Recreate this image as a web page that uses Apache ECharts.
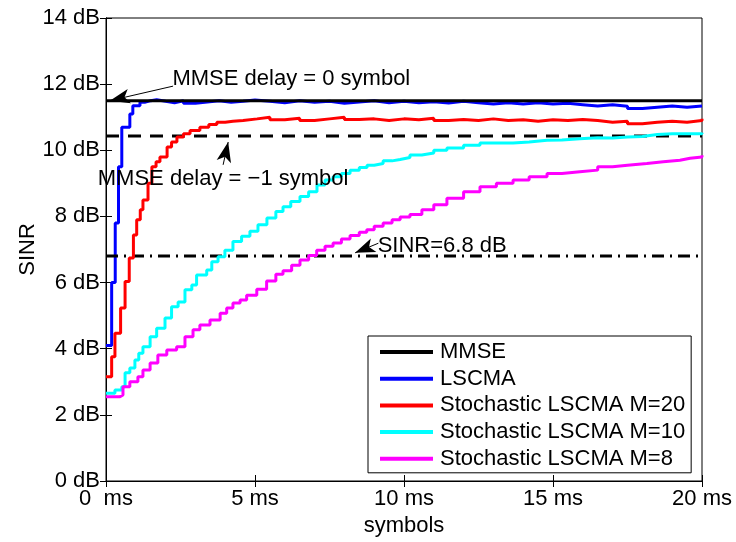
<!DOCTYPE html>
<html>
<head>
<meta charset="utf-8">
<script src="https://cdn.jsdelivr.net/npm/echarts@6/dist/echarts.min.js"></script>
<style>
html,body{margin:0;padding:0;background:#fff;}
#chart{width:736px;height:542px;}
</style>
</head>
<body>
<div id="chart"></div>
<script>
// ---- data ----
const seriesNames = ['MMSE', 'LSCMA', 'Stochastic LSCMA M=20', 'Stochastic LSCMA M=10', 'Stochastic LSCMA M=8'];
const xRange = [0, 20];
const mmseLevel = 11.5;
const mmseDelayLevel = 10.43;
const sinrLevel = 6.8;

const lscmaX = [0, 0.19, 0.31, 0.42, 0.53, 0.8, 0.9, 1.14, 1.3, 1.5, 1.7, 2.0, 2.3, 2.6, 3.0, 3.4, 3.8, 4.2, 4.6, 5.0, 5.5, 6.0, 6.5, 7.0, 7.5, 8.0, 8.5, 9.0, 9.5, 10, 10.5, 11, 11.5, 12, 12.5, 13, 13.5, 14, 14.5, 15, 15.5, 16, 16.5, 17, 17.5, 18, 18.5, 19, 19.5, 20];
const lscmaY = [4.1, 6.0, 7.8, 9.5, 10.7, 11.1, 11.35, 11.45, 11.5, 11.53, 11.48, 11.44, 11.5, 11.42, 11.46, 11.5, 11.45, 11.48, 11.52, 11.48, 11.44, 11.5, 11.45, 11.48, 11.42, 11.46, 11.5, 11.44, 11.48, 11.44, 11.47, 11.43, 11.48, 11.44, 11.4, 11.44, 11.4, 11.44, 11.4, 11.42, 11.38, 11.34, 11.38, 11.33, 11.26, 11.3, 11.34, 11.3, 11.34, 11.35];

const m20X = [0, 0.19, 0.3, 0.49, 0.64, 0.78, 0.92, 1.03, 1.15, 1.24, 1.41, 1.54, 1.68, 1.81, 2.05, 2.2, 2.38, 2.6, 2.82, 3.15, 3.45, 3.72, 4.0, 4.26, 4.6, 5.07, 5.5, 6.0, 6.5, 7.0, 7.5, 8.0, 8.5, 9.0, 9.5, 10, 10.5, 11, 11.5, 12, 12.5, 13, 13.5, 14, 14.5, 15, 15.5, 16, 16.5, 17, 17.5, 18, 18.5, 19, 19.5, 20];
const m20Y = [3.15, 3.76, 4.47, 5.23, 6.03, 6.74, 7.44, 7.9, 8.2, 8.5, 9.0, 9.5, 9.65, 9.8, 10.1, 10.25, 10.4, 10.5, 10.6, 10.7, 10.78, 10.85, 10.88, 10.9, 10.95, 11.0, 10.92, 10.97, 10.9, 10.95, 11.0, 10.93, 10.95, 10.9, 10.95, 10.92, 10.97, 10.9, 10.93, 10.9, 10.95, 10.9, 10.92, 10.88, 10.92, 10.9, 10.93, 10.9, 10.85, 10.88, 10.8, 10.85, 10.88, 10.85, 10.9, 10.95];

const m10X = [0, 0.3, 0.53, 0.64, 0.8, 0.97, 1.1, 1.24, 1.48, 1.7, 1.98, 2.2, 2.42, 2.65, 2.88, 3.04, 3.38, 3.55, 3.76, 3.99, 4.26, 4.55, 4.83, 5.1, 5.4, 5.7, 5.94, 6.2, 6.51, 6.8, 7.08, 7.35, 7.62, 7.9, 8.19, 8.5, 8.76, 9.0, 9.3, 9.6, 9.87, 10.2, 10.6, 11.0, 11.44, 12.0, 12.55, 13.1, 13.66, 14.2, 14.8, 15.3, 15.9, 16.5, 17.0, 17.5, 18.0, 18.5, 19.0, 19.5, 20];
const m10Y = [2.65, 2.75, 2.85, 3.27, 3.42, 3.66, 3.86, 4.06, 4.36, 4.62, 4.93, 5.27, 5.41, 5.78, 5.93, 6.23, 6.38, 6.63, 6.78, 6.98, 7.24, 7.4, 7.55, 7.75, 7.95, 8.15, 8.29, 8.45, 8.6, 8.75, 8.95, 9.1, 9.2, 9.3, 9.4, 9.48, 9.55, 9.6, 9.68, 9.72, 9.78, 9.86, 9.92, 10.0, 10.07, 10.15, 10.22, 10.22, 10.25, 10.3, 10.31, 10.35, 10.38, 10.37, 10.4, 10.42, 10.48, 10.5, 10.5, 10.5, 10.53];

const m8X = [0, 0.47, 0.57, 0.8, 1.07, 1.24, 1.48, 1.74, 2.04, 2.37, 2.65, 2.92, 3.15, 3.49, 3.83, 4.05, 4.26, 4.5, 4.72, 5.06, 5.39, 5.7, 5.94, 6.23, 6.51, 6.8, 7.07, 7.35, 7.62, 7.9, 8.19, 8.5, 8.75, 9.0, 9.3, 9.6, 9.87, 10.2, 10.6, 11.0, 11.44, 12.0, 12.55, 13.1, 13.66, 14.2, 14.8, 15.3, 15.9, 16.5, 17.0, 17.5, 18.15, 18.7, 19.26, 19.6, 20];
const m8Y = [2.55, 2.6, 2.85, 3.0, 3.15, 3.36, 3.57, 3.81, 3.96, 4.06, 4.36, 4.57, 4.72, 4.87, 5.07, 5.23, 5.38, 5.47, 5.62, 5.8, 6.05, 6.25, 6.36, 6.52, 6.68, 6.82, 6.98, 7.1, 7.2, 7.32, 7.42, 7.52, 7.6, 7.7, 7.8, 7.9, 7.98, 8.06, 8.2, 8.35, 8.55, 8.75, 8.9, 9.0, 9.1, 9.2, 9.3, 9.35, 9.4, 9.5, 9.55, 9.6, 9.65, 9.7, 9.76, 9.8, 9.85];

// annotation texts (centre positions in data units) and arrows (tail -> head)
const annotationTexts = ['MMSE delay = 0 symbol', 'MMSE delay = \u22121 symbol', 'SINR=6.8 dB'];
const annotationPos = [[6.22, 12.17], [3.93, 9.13], [11.28, 7.12]];
const arrowTails = [[2.25, 11.94], [3.93, 9.56], [9.14, 7.19]];
const arrowHeads = [[0.13, 11.5], [4.1, 10.25], [8.36, 6.9]];

// ---- chart ----
const pairs = (xs, ys) => xs.map((x, i) => [x, ys[i]]);
const FONT = '"Liberation Sans", Arial, Helvetica, sans-serif';
const FS = 22;
const chart = echarts.init(document.getElementById('chart'), null, {renderer: 'canvas'});

const lineSeries = (name, data, color, extra) => Object.assign({
  name: name, type: 'line', data: data, showSymbol: false, symbol: 'none',
  step: 'end', lineStyle: {color: color, width: 3}, itemStyle: {color: color},
  animation: false, silent: true
}, extra || {});

const option = {
  animation: false,
  backgroundColor: '#fff',
  textStyle: {fontFamily: FONT},
  grid: {left: 106, right: 34, top: 18, bottom: 61, show: true, borderColor: '#000', borderWidth: 1},
  legend: {
    data: seriesNames, orient: 'vertical', left: 368, top: 336,
    backgroundColor: '#fff', borderColor: '#000', borderWidth: 1,
    padding: [5, 6, 3, 12], itemGap: 4.7, itemWidth: 53, itemHeight: 4,
    icon: 'rect',
    textStyle: {fontSize: FS, color: '#000', fontFamily: FONT, padding: [0, 0, 0, 2]},
    selectedMode: false
  },
  xAxis: [{
    type: 'value', min: xRange[0], max: xRange[1], interval: 5,
    name: 'symbols', nameLocation: 'middle', nameGap: 28,
    nameTextStyle: {fontSize: FS, color: '#000', fontFamily: FONT},
    axisLine: {show: true, lineStyle: {color: '#000', width: 1}},
    axisTick: {show: true, inside: true, length: 6, lineStyle: {color: '#000'}},
    axisLabel: {fontSize: FS, color: '#000', margin: 7, fontFamily: FONT,
      formatter: v => v === 0 ? '0  ms' : v + ' ms'},
    splitLine: {show: false}
  }, {
    type: 'value', min: xRange[0], max: xRange[1], interval: 5, position: 'top',
    axisLine: {show: true, lineStyle: {color: '#000'}},
    axisTick: {show: true, inside: true, length: 6, lineStyle: {color: '#000'}},
    axisLabel: {show: false}, splitLine: {show: false}
  }],
  yAxis: [{
    type: 'value', min: 0, max: 14, interval: 2,
    name: 'SINR', nameLocation: 'middle', nameGap: 67, nameMoveOverlap: false,
    nameTextStyle: {fontSize: FS, color: '#000', fontFamily: FONT},
    axisLine: {show: true, lineStyle: {color: '#000', width: 1}},
    axisTick: {show: true, inside: true, length: 6, lineStyle: {color: '#000'}},
    axisLabel: {fontSize: FS, color: '#000', margin: 6, fontFamily: FONT,
      formatter: v => v + ' dB'},
    splitLine: {show: false}
  }, {
    type: 'value', min: 0, max: 14, interval: 2, position: 'right',
    axisLine: {show: true, lineStyle: {color: '#000'}},
    axisTick: {show: true, inside: true, length: 6, lineStyle: {color: '#000'}},
    axisLabel: {show: false}, splitLine: {show: false}
  }],
  series: [
    lineSeries(seriesNames[0], [[xRange[0], mmseLevel], [xRange[1], mmseLevel]], '#000', {step: false, z: 3}),
    lineSeries('MMSE delay -1', [[xRange[0], mmseDelayLevel], [xRange[1], mmseDelayLevel]], '#000',
      {step: false, lineStyle: {color: '#000', width: 3, type: [13, 9]}}),
    lineSeries('SINR level', [[xRange[0], sinrLevel], [xRange[1], sinrLevel]], '#000',
      {step: false, lineStyle: {color: '#000', width: 3, type: [12, 6, 2, 6]}}),
    lineSeries(seriesNames[1], pairs(lscmaX, lscmaY), '#0000ff', {z: 2}),
    lineSeries(seriesNames[2], pairs(m20X, m20Y), '#ff0000'),
    lineSeries(seriesNames[3], pairs(m10X, m10Y), '#00ffff'),
    lineSeries(seriesNames[4], pairs(m8X, m8Y), '#ff00ff'),
    {
      name: 'arrows', type: 'line', data: [], silent: true, animation: false,
      markLine: {
        silent: true, animation: false,
        symbol: ['none', 'arrow'], symbolSize: [11, 20],
        lineStyle: {color: '#000', width: 1, type: 'solid'},
        label: {show: false},
        emphasis: {disabled: true},
        data: arrowTails.map((t, i) => [{coord: t}, {coord: arrowHeads[i]}])
      }
    },
    {
      name: 'notes', type: 'scatter', symbolSize: 1, itemStyle: {color: 'rgba(0,0,0,0)'},
      silent: true, animation: false, z: 10,
      data: annotationPos.map((p, i) => ({
        value: p,
        label: {show: true, position: 'inside', formatter: annotationTexts[i],
          color: '#000', fontSize: FS, fontFamily: FONT,
          textBorderWidth: 0, textBorderColor: 'transparent', opacity: 1}
      }))
    }
  ]
};
chart.setOption(option);
</script>
</body>
</html>
